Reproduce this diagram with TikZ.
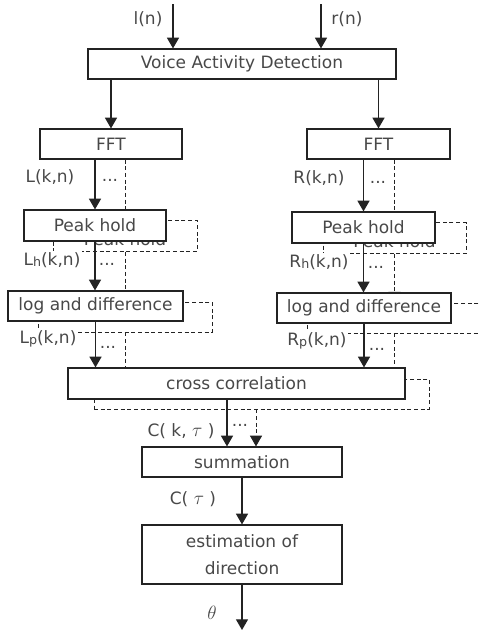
\documentclass[tikz,border=0pt]{standalone}
\usepackage{fontspec}
\setmainfont{DejaVu Sans}
\usetikzlibrary{arrows.meta,calc}
\definecolor{txt}{RGB}{72,72,72}
\definecolor{ln}{RGB}{35,35,35}
\newcommand{\subsc}[1]{\raisebox{-0.15ex}{\fontsize{9.5}{10}\selectfont #1}}
\begin{document}
\begin{tikzpicture}[x=0.75pt,y=-0.75pt,
  font=\fontsize{12.75}{20}\selectfont,
  sz/.style 2 args={minimum width=#1*0.75pt, minimum height=#2*0.75pt},
  box/.style={draw=ln, line width=0.9pt, fill=white, text=txt, inner sep=0pt, align=center},
  backbox/.style={draw=ln, line width=0.7pt, dash pattern=on 3pt off 2pt, fill=white, text=txt, inner sep=0pt},
  arr/.style={draw=ln, line width=0.9pt, -{Triangle[width=9pt,length=8pt]}},
  darr/.style={draw=ln, line width=0.7pt, dash pattern=on 3pt off 2pt, -{Triangle[width=9pt,length=8pt]}},
  lab/.style={text=txt, inner sep=1pt},
  flab/.style={text=txt, inner sep=1pt, fill=white},
  dots/.style={text=txt, inner sep=0pt, anchor=base}]
\useasboundingbox (0,0) rectangle (479,632);
\clip (0,0) rectangle (479,632);

% back (dashed) boxes
\node[backbox, sz={144}{31}] (phLb) at (125,236) {};
\node[backbox, sz={143}{31}] (phRb) at (394.5,238) {};
\node[lab] (ghL) at (125,239.5) {Peak hold};
\node[lab] (ghR) at (394.5,241) {Peak hold};
\node[backbox, sz={174}{30}] (ldLb) at (125,317) {};
\node[backbox, sz={174}{30}] (ldRb) at (394,318) {};
\node[backbox, sz={335}{30}] (ccb) at (261.5,394) {};

% front boxes needed for dashed paths
\node[box, sz={308}{30}] (vad) at (242,64) {Voice Activity Detection};
\node[box, sz={142}{30}] (fftL) at (111,144) {FFT};
\node[box, sz={143}{30}] (fftR) at (378.5,144) {FFT};
\node[box, sz={200}{30}] (sum) at (242,462) {summation};
\node[box, sz={200}{59}] (est) at (242,554.5) {estimation of\\direction};

% dashed connectors
\draw[darr] (fftL.south -| phLb.north) -- (phLb.north);
\draw[darr] (fftR.south -| phRb.north) -- (phRb.north);
\draw[darr] (phLb.south) -- (phLb.south |- ldLb.north);
\draw[darr] (phRb.south) -- (phRb.south |- ldRb.north);
\draw[darr] (ldLb.south) -- (ldLb.south |- ccb.north);
\draw[darr] (ldRb.south) -- (ldRb.south |- ccb.north);
\coordinate (s1) at ($(sum.north)+(-15,0)$);
\coordinate (s2) at ($(sum.north)+(14,0)$);
\draw[darr] (s2 |- ccb.south) -- (s2);

% front boxes over the dashed ones
\node[box, sz={142}{31}] (phL) at (95,225.5) {Peak hold};
\node[box, sz={143}{31}] (phR) at (363.5,227.5) {Peak hold};
\node[box, sz={175}{30}] (ldL) at (95.5,306) {log and difference};
\node[box, sz={174}{30}] (ldR) at (364,308) {log and difference};
\node[box, sz={337}{31}] (cc) at (236.5,383.5) {cross correlation};

% solid connectors
\coordinate (lin) at (173,4);
\coordinate (rin) at (321,4);
\coordinate (out) at (242,630);
\draw[arr] (lin) -- (lin |- vad.north);
\draw[arr] (rin) -- (rin |- vad.north);
\draw[arr] (vad.south -| fftL.north) -- (fftL.north);
\draw[arr] (vad.south -| fftR.north) -- (fftR.north);
\draw[arr] (fftL.south -| phL.north) -- (phL.north);
\draw[arr] (fftR.south -| phR.north) -- (phR.north);
\draw[arr] (phL.south) -- (phL.south |- ldL.north);
\draw[arr] (phR.south) -- (phR.south |- ldR.north);
\draw[arr] (ldL.south) -- (ldL.south |- cc.north);
\draw[arr] (ldR.south) -- (ldR.south |- cc.north);
\draw[arr] (s1 |- cc.south) -- (s1);
\draw[arr] (sum.south) -- (est.north);
\draw[arr] (est.south) -- (out);

% labels
\node[lab] (tl) at (148,19) {l(n)};
\node[lab] (tr) at (347,19) {r(n)};
\node[lab] (tL) at (50,177) {L(k,n)};
\node[lab] (tR) at (319,178) {R(k,n)};
\node[flab] (tLh) at (52,260) {L\subsc{h}(k,n)};
\node[flab] (tRh) at (319,262) {R\subsc{h}(k,n)};
\node[flab] (tLp) at (48,339) {L\subsc{p}(k,n)};
\node[flab] (tRp) at (317,341) {R\subsc{p}(k,n)};
\node[lab] (tC) at (181,431) {C( k, {\fontsize{15}{15}\selectfont$\tau$} )};
\node[lab] (tCt) at (193,499) {C( {\fontsize{15}{15}\selectfont$\tau$} )};
\node[lab] (tth) at (212,613) {\fontsize{15}{15}\selectfont$\theta$};
\node[dots] (d1) at (110,181) {...};
\node[dots] (d2) at (378,183) {...};
\node[dots] (d3) at (107,265) {...};
\node[dots] (d4) at (376,268) {...};
\node[dots] (d5) at (108,348) {...};
\node[dots] (d6) at (377,350) {...};
\node[dots] (d7) at (240,426) {...};
\end{tikzpicture}
\end{document}
